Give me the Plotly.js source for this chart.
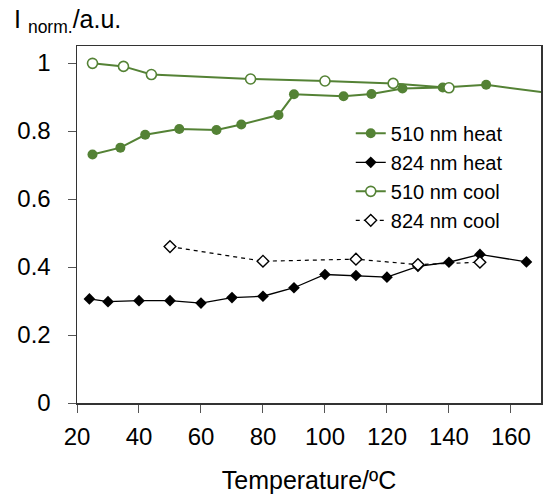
<!DOCTYPE html>
<html>
<head>
<meta charset="utf-8">
<script src="https://cdn.plot.ly/plotly-3.0.1.min.js"></script>
<style>html,body{margin:0;padding:0;background:#fff;}#chart{width:545px;height:502px;}</style>
</head>
<body>
<div id="chart"></div>
<script>
// 510 nm heat
const heat510_T = [25, 34, 42, 53, 65, 73, 85, 90, 106, 115, 125, 138, 152, 180];
const heat510_I = [0.731, 0.751, 0.789, 0.806, 0.803, 0.819, 0.847, 0.908, 0.902, 0.909, 0.925, 0.928, 0.936, 0.902];
// 824 nm heat
const heat824_T = [24, 30, 40, 50, 60, 70, 80, 90, 100, 110, 120, 130, 140, 150, 165];
const heat824_I = [0.306, 0.298, 0.301, 0.301, 0.294, 0.310, 0.314, 0.339, 0.378, 0.375, 0.370, 0.402, 0.414, 0.437, 0.415];
// 510 nm cool
const cool510_T = [25, 35, 44, 76, 100, 122, 140];
const cool510_I = [0.999, 0.990, 0.966, 0.953, 0.947, 0.940, 0.927];
// 824 nm cool
const cool824_T = [50, 80, 110, 130, 150];
const cool824_I = [0.460, 0.417, 0.423, 0.407, 0.414];

const names = ['510 nm heat', '824 nm heat', '510 nm cool', '824 nm cool'];
const xTicks = [20, 40, 60, 80, 100, 120, 140, 160];
const yTicks = [0, 0.2, 0.4, 0.6, 0.8, 1];

const green = 'rgb(84,130,53)';
const font = 'Liberation Sans, Arial, sans-serif';

const traces = [
  {x: heat510_T, y: heat510_I, name: names[0], type: 'scatter', mode: 'lines+markers',
   line: {color: green, width: 2}, marker: {symbol: 'circle', size: 10, color: green}},
  {x: heat824_T, y: heat824_I, name: names[1], type: 'scatter', mode: 'lines+markers',
   line: {color: '#000', width: 1.3}, marker: {symbol: 'diamond', size: 9, color: '#000'}},
  {x: cool510_T, y: cool510_I, name: names[2], type: 'scatter', mode: 'lines+markers',
   line: {color: green, width: 2}, marker: {symbol: 'circle', size: 10, color: '#fff', line: {color: green, width: 1.6}}},
  {x: cool824_T, y: cool824_I, name: names[3], type: 'scatter', mode: 'lines+markers',
   line: {color: '#000', width: 1.2, dash: '4px,4px'}, marker: {symbol: 'diamond', size: 9, color: '#fff', line: {color: '#000', width: 1.4}}}
];

const layout = {
  width: 545, height: 502,
  margin: {l: 77, r: 4, t: 46, b: 99},
  paper_bgcolor: '#fff', plot_bgcolor: '#fff',
  font: {family: font, color: '#000', size: 24},
  showlegend: true,
  legend: {x: 0.59, y: 0.81, xanchor: 'left', yanchor: 'top', bgcolor: 'rgba(0,0,0,0)',
           font: {family: font, size: 20, color: '#000'}, tracegroupgap: 0, itemwidth: 30},
  xaxis: {range: [20, 169.7], tickvals: xTicks, ticktext: xTicks.map(String),
          showgrid: false, zeroline: false, showline: true, mirror: true,
          linecolor: '#333', linewidth: 1.5, ticks: 'outside', ticklen: 8, tickcolor: '#555', tickwidth: 1,
          tickfont: {family: font, size: 24, color: '#000'}, ticklabelstandoff: 4,
          title: {text: 'Temperature/ºC', font: {family: font, size: 25, color: '#000'}, standoff: 22}},
  yaxis: {range: [0, 1.05], tickvals: yTicks, ticktext: yTicks.map(String),
          showgrid: false, zeroline: false, showline: true, mirror: true,
          linecolor: '#333', linewidth: 1.5, ticks: 'outside', ticklen: 8, tickcolor: '#555', tickwidth: 1,
          tickfont: {family: font, size: 24, color: '#000'}, ticklabelstandoff: 12},
  annotations: [{
    text: 'I <sub>norm.</sub>/a.u.', xref: 'paper', yref: 'paper',
    x: -0.14, y: 1.12, xanchor: 'left', yanchor: 'top', showarrow: false,
    font: {family: font, size: 25, color: '#000'}
  }]
};

Plotly.newPlot('chart', traces, layout, {displayModeBar: false, staticPlot: true});
</script>
</body>
</html>
